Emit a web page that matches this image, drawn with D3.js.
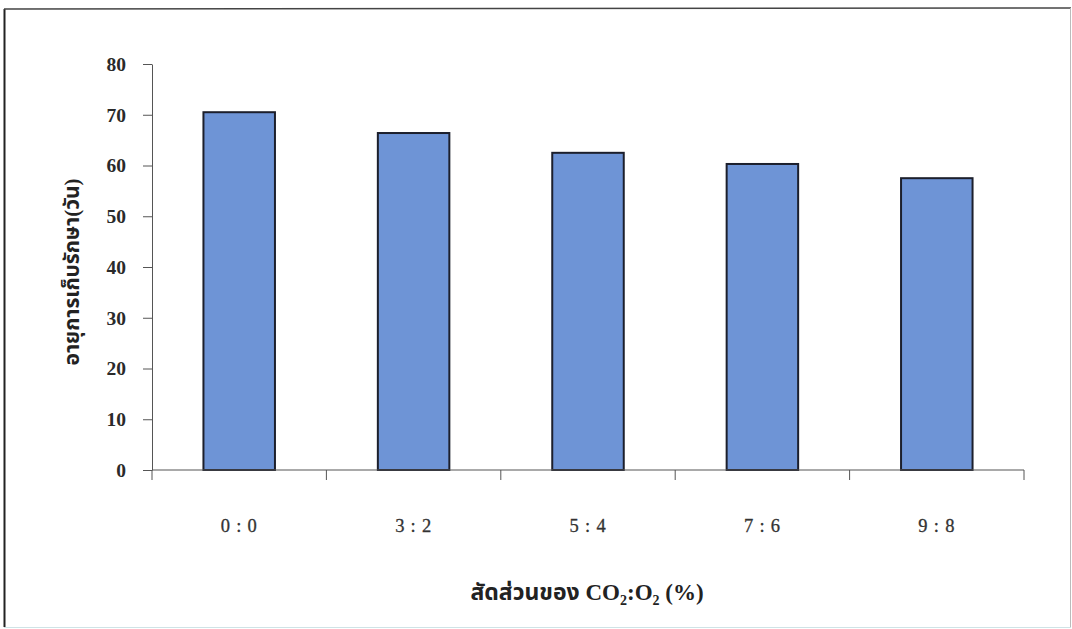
<!DOCTYPE html>
<html>
<head>
<meta charset="utf-8">
<script src="https://cdn.jsdelivr.net/npm/d3@7"></script>
<style>
  body { margin: 0; background: #fff; }
  svg { display: block; }
  .tick text { font-family: "Liberation Serif", "Times New Roman", serif; }
</style>
</head>
<body>
<div id="chart"></div>
<script>
// data
var categories = ["0 : 0", "3 : 2", "5 : 4", "7 : 6", "9 : 8"];
var storageDays = [70.5, 66.4, 62.5, 60.3, 57.5];
var yTicks = [0, 10, 20, 30, 40, 50, 60, 70, 80];

var w = 1072, h = 629;
var margin = {top: 64, left: 152, right: 48, bottom: 159};

var svg = d3.select("#chart").append("svg")
    .attr("width", w)
    .attr("height", h);

// outer frame (scanned border)
svg.append("line").attr("x1", 4.5).attr("y1", 9).attr("x2", 4.5).attr("y2", 627)
    .attr("stroke", "#222").attr("stroke-width", 2);
svg.append("line").attr("x1", 4).attr("y1", 9).attr("x2", 1071).attr("y2", 8)
    .attr("stroke", "#444").attr("stroke-width", 1.5);
svg.append("line").attr("x1", 1070.5).attr("y1", 8).attr("x2", 1070.5).attr("y2", 627)
    .attr("stroke", "#bbb").attr("stroke-width", 1);
svg.append("line").attr("x1", 4).attr("y1", 627.5).attr("x2", 1071).attr("y2", 627.5)
    .attr("stroke", "#cfe3e6").attr("stroke-width", 1);

var x = d3.scaleBand()
    .domain(categories)
    .range([margin.left, w - margin.right])
    .padding(0);

var y = d3.scaleLinear()
    .domain([0, 80])
    .range([h - margin.bottom, margin.top]);

var barW = x.bandwidth() * 0.41;

// bars
svg.append("g").selectAll("rect")
    .data(storageDays)
  .enter().append("rect")
    .attr("x", function(d, i) { return x(categories[i]) + (x.bandwidth() - barW) / 2; })
    .attr("y", function(d) { return y(d); })
    .attr("width", barW)
    .attr("height", function(d) { return y(0) - y(d); })
    .attr("fill", "#6e94d6")
    .attr("stroke", "#1c1f2c")
    .attr("stroke-width", 2);

// y axis
var yAxis = svg.append("g")
    .attr("transform", "translate(" + margin.left + ",0)")
    .call(d3.axisLeft(y).tickValues(yTicks).tickSize(9).tickPadding(17).tickSizeOuter(0));
yAxis.select(".domain").attr("stroke", "#555");
yAxis.selectAll(".tick line").attr("stroke", "#555");
yAxis.selectAll(".tick text")
    .attr("font-size", 19.5)
    .attr("font-weight", "bold")
    .attr("fill", "#2a2a2a");

// x axis: ticks at band boundaries
var bounds = categories.map(function(c) { return x(c); }).concat([w - margin.right]);
var xg = svg.append("g");
xg.append("line")
    .attr("x1", margin.left).attr("x2", w - margin.right)
    .attr("y1", y(0)).attr("y2", y(0))
    .attr("stroke", "#555");
xg.selectAll(".xt")
    .data(bounds)
  .enter().append("line")
    .attr("class", "xt")
    .attr("x1", function(d) { return d; })
    .attr("x2", function(d) { return d; })
    .attr("y1", y(0))
    .attr("y2", y(0) + 10)
    .attr("stroke", "#555");
xg.selectAll(".xl")
    .data(categories)
  .enter().append("text")
    .attr("class", "xl")
    .attr("x", function(d) { return x(d) + x.bandwidth() / 2; })
    .attr("y", 532)
    .attr("text-anchor", "middle")
    .attr("font-family", "'Liberation Serif', serif")
    .attr("font-size", 18.5)
    .attr("letter-spacing", 0.8)
    .attr("stroke", "#333")
    .attr("stroke-width", 0.3)
    .attr("fill", "#333")
    .text(function(d) { return d; });

// axis titles
var xt = svg.append("text")
    .attr("x", 587)
    .attr("y", 600)
    .attr("text-anchor", "middle")
    .attr("font-family", "'Liberation Serif', 'Noto Sans Thai', serif")
    .attr("font-weight", "bold")
    .attr("font-size", 23)
    .attr("fill", "#222");
xt.append("tspan").text("สัดส่วนของ CO");
xt.append("tspan").attr("font-size", 14).attr("dy", 5).text("2");
xt.append("tspan").attr("dy", -5).text(":O");
xt.append("tspan").attr("font-size", 14).attr("dy", 5).text("2");
xt.append("tspan").attr("dy", -5).text(" (%)");

svg.append("text")
    .attr("transform", "translate(79,272) rotate(-90)")
    .attr("text-anchor", "middle")
    .attr("font-family", "'Liberation Serif', 'Noto Sans Thai', serif")
    .attr("font-weight", "bold")
    .attr("font-size", 21)
    .attr("fill", "#222")
    .text("อายุการเก็บรักษา(วัน)");
</script>
</body>
</html>
